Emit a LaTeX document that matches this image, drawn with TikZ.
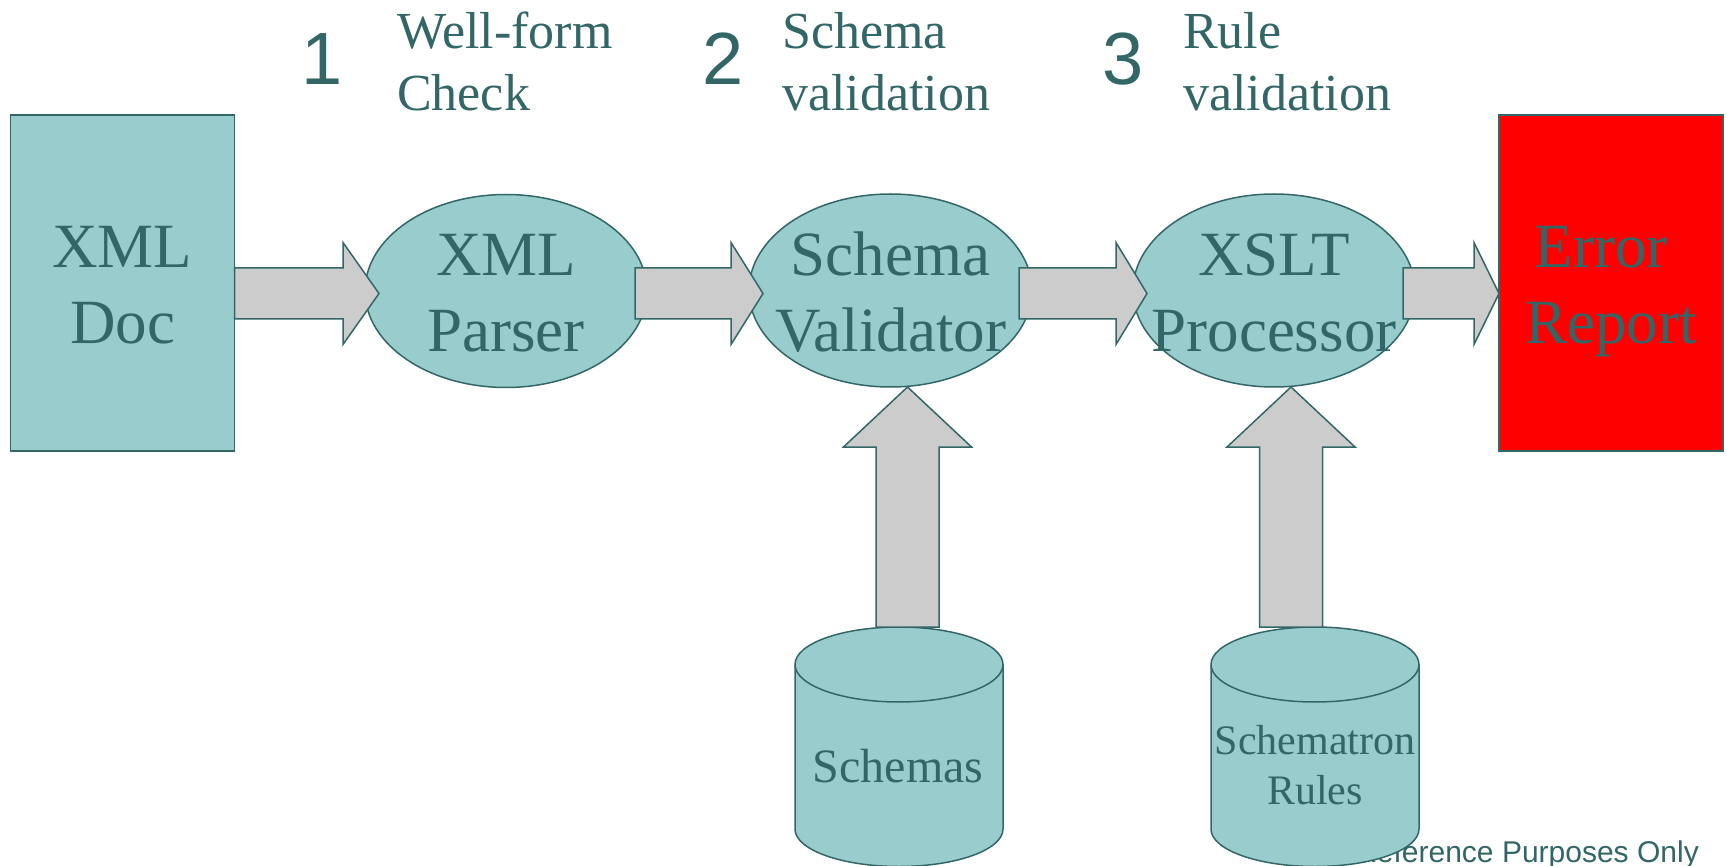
\documentclass[tikz,border=0pt]{standalone}
\usepackage{fontspec}
\setmainfont{Liberation Serif}
\newfontfamily\sansdigits{Liberation Sans}
\usetikzlibrary{calc,shapes.geometric}
\definecolor{tealfill}{HTML}{99CCCC}
\definecolor{tealdark}{HTML}{336666}
\definecolor{arrowgray}{HTML}{CCCCCC}
\definecolor{errred}{HTML}{FF0000}
\newcommand\twoline[2]{\rule{0pt}{50pt}#1\\\raisebox{0pt}[\height][0pt]{#2}\rule[-4pt]{0pt}{4pt}}
\newcommand\harrow[3]{\draw[blockarrow] let \p1=#1, \p2=#2 in
  (\x1,\y2+25.5pt) -- (\x2-#3pt,\y2+25.5pt) -- (\x2-#3pt,\y2+51pt) -- (\x2,\y2)
  -- (\x2-#3pt,\y2-51pt) -- (\x2-#3pt,\y2-25.5pt) -- (\x1,\y2-25.5pt) -- cycle;}
\newcommand\varrow[3]{\draw[blockarrow] let \p1=#1, \p2=#2 in
  (\x2-31.5pt,\y1) -- (\x2-31.5pt,\y2-#3pt) -- (\x2-64pt,\y2-#3pt) -- (\x2,\y2)
  -- (\x2+64pt,\y2-#3pt) -- (\x2+31.5pt,\y2-#3pt) -- (\x2+31.5pt,\y1) -- cycle;}
\newcommand\cylinder[3]{% #1 centre x, #2 name of top coordinate, #3 unused
  \coordinate (#2) at (#1,627);
  \filldraw[tealshape] (#1-104,664.5) -- (#1-104,829)
    arc[start angle=180,end angle=360,x radius=104pt,y radius=37.5pt]
    -- (#1+104,664.5)
    arc[start angle=0,end angle=180,x radius=104pt,y radius=37.5pt] -- cycle;
  \draw[tealshape,fill=none] (#1-104,664.5)
    arc[start angle=180,end angle=360,x radius=104pt,y radius=37.5pt];}
\tikzset{
  tealshape/.style={draw=tealdark,fill=tealfill,line width=1.5pt},
  boxnode/.style={tealshape,rectangle,minimum width=224pt,minimum height=336pt,inner sep=0pt,outer sep=0pt},
  ovalnode/.style={tealshape,ellipse,inner sep=0pt,outer sep=0pt,minimum height=193pt},
  blockarrow/.style={draw=tealdark,fill=arrowgray,line width=1.5pt,line join=miter},
  lbl/.style={text=tealdark,font=\fontsize{63}{76}\selectfont,align=center,inner sep=0pt},
  toplbl/.style={text=tealdark,font=\fontsize{52}{62}\selectfont,align=left,inner sep=0pt,anchor=north west},
  digitlbl/.style={text=tealdark,font=\sansdigits\fontsize{74}{80}\selectfont,inner sep=0pt,anchor=base},
}
\begin{document}
\begin{tikzpicture}[x=1pt,y=-1pt]
\useasboundingbox (0,0) rectangle (1727,866);
\fill[white] (0,0) rectangle (1727,866);

% step labels
\node[digitlbl] (n1) at (322,85) {1};
\node[toplbl] (t1) at (397,8) {\rule{0pt}{40pt}Well-form\\Check};
\node[digitlbl] (n2) at (723,85) {2};
\node[toplbl] (t2) at (782,8) {\rule{0pt}{40pt}Schema\\validation};
\node[digitlbl] (n3) at (1123.5,85) {3};
\node[toplbl] (t3) at (1183,8) {\rule{0pt}{40pt}Rule\\validation};

% main shapes
\node[boxnode] (doc) at (122.5,283) {};
\node[ovalnode,minimum width=282pt] (parser) at (506,291) {};
\node[ovalnode,minimum width=283pt] (validator) at (890.5,290.5) {};
\node[ovalnode,minimum width=282pt] (xslt) at (1274,290.5) {};
\node[boxnode,fill=errred] (report) at (1611,283) {};

% footer (partly hidden by the cylinder)
\node[text=tealdark,font=\sansdigits\fontsize{30}{36}\selectfont,anchor=base east,inner sep=0pt] (footer) at (1699,862) {For Reference Purposes Only};

% databases
\cylinder{899}{schtop}{}
\cylinder{1315}{ruletop}{}

% block arrows
\harrow{(doc.east)}{([xshift=14pt,yshift=-2.5pt]parser.west)}{36}
\harrow{([xshift=-12pt]parser.east)}{([xshift=14pt,yshift=-3pt]validator.west)}{32}
\harrow{([xshift=-13pt]validator.east)}{([xshift=14pt,yshift=-3pt]xslt.west)}{31}
\harrow{([xshift=-12pt]xslt.east)}{([yshift=-10.5pt]report.west)}{25}
\varrow{(schtop)}{([xshift=17pt]validator.south)}{60}
\varrow{(ruletop)}{([xshift=17pt]xslt.south)}{60}

% labels
\node[lbl] (doclbl) at (doc) {\twoline{XML}{Doc}};
\node[lbl] (parserlbl) at (parser) {\twoline{XML}{Parser}};
\node[lbl] (validatorlbl) at (validator) {\twoline{Schema}{Validator}};
\node[lbl] (xsltlbl) at (xslt) {\twoline{XSLT}{Processor}};
\node[lbl] (reportlbl) at (report) {\twoline{Error\kern20pt}{Report}};
\node[text=tealdark,font=\fontsize{48}{56}\selectfont,anchor=base,inner sep=0pt] (schemaslbl) at (898,782) {Schemas};
\node[text=tealdark,font=\fontsize{42}{50}\selectfont,align=center,inner sep=0pt,anchor=north] (rulelbl) at (1315,719) {\rule{0pt}{35pt}Schematron\\Rules};
\end{tikzpicture}
\end{document}
